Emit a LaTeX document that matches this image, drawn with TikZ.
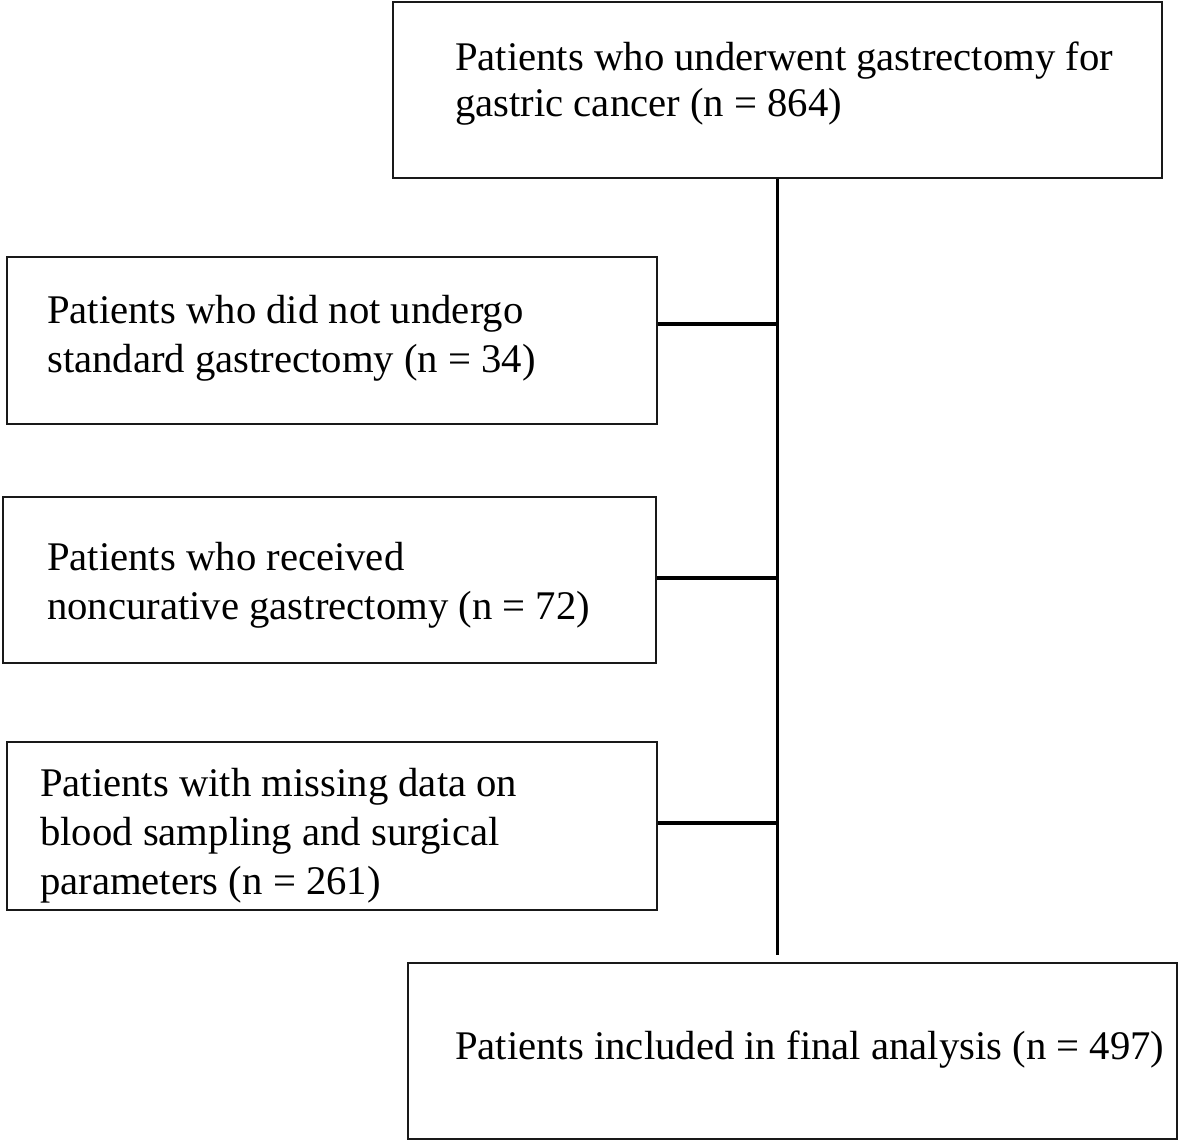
\documentclass[tikz,border=0pt]{standalone}
\usepackage{fontspec}
\setmainfont{Liberation Serif}
\usepackage{tikz}

\begin{document}
\begin{tikzpicture}[x=1pt,y=-1pt,
  box/.style={draw=black!90,line width=1.8pt,inner sep=0pt},
  txt/.style={align=left,inner sep=0pt,anchor=west,font=\fontsize{40.7}{49}\selectfont},
  link/.style={line width=3.8pt}]
\useasboundingbox (0,0) rectangle (1180,1143);
% boxes
\node[box,minimum width=769pt,minimum height=176pt] (init) at (777.5,90) {};
\node[box,minimum width=650pt,minimum height=167pt] (ex1) at (332,340.5) {};
\node[box,minimum width=653pt,minimum height=166pt] (ex2) at (329.5,580) {};
\node[box,minimum width=650pt,minimum height=168pt] (ex3) at (332,826) {};
\node[box,minimum width=769pt,minimum height=176pt] (final) at (792.5,1051) {};
% texts
\node[txt,font=\fontsize{40.7}{46}\selectfont] (t-init) at (455,84) {Patients who underwent gastrectomy for\\gastric cancer (n = 864)};
\node[txt] (t-ex1) at (47,338) {Patients who did not undergo\\standard gastrectomy (n = 34)};
\node[txt] (t-ex2) at (47,585) {Patients who received\\noncurative gastrectomy (n = 72)};
\node[txt] (t-ex3) at (40,836) {Patients with missing data on\\blood sampling and surgical\\parameters (n = 261)};
\node[txt] (t-final) at (455,1050) {Patients included in final analysis (n = 497)};
% connectors
\coordinate (trunkend) at (init.south |- 0,955);
\coordinate (j1) at ([yshift=16.5pt]ex1.east);
\coordinate (j2) at ([yshift=2pt]ex2.east);
\coordinate (j3) at ([yshift=3pt]ex3.east);
\draw[link] (init.south) -- (trunkend);
\draw[link] (j1) -- (j1 -| init.south);
\draw[link] (j2) -- (j2 -| init.south);
\draw[link] (j3) -- (j3 -| init.south);
\end{tikzpicture}
\end{document}
